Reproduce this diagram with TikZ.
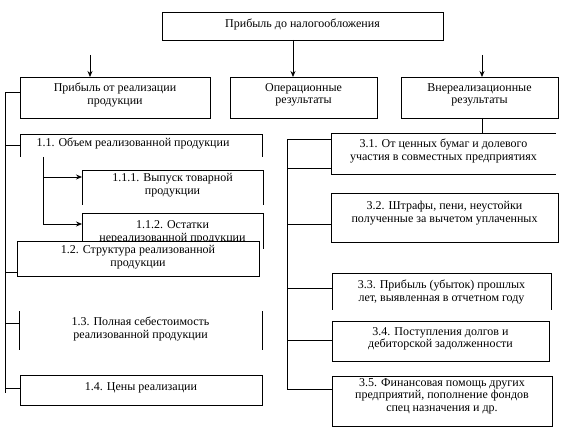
\documentclass[tikz,border=0pt]{standalone}
\usepackage{fontspec}
\setmainfont{Liberation Serif}
\usetikzlibrary{arrows.meta}
\begin{document}
\begin{tikzpicture}[x=1pt,y=-1pt,line width=0.8pt,
  boxnode/.style={inner sep=0pt,outer sep=0pt,fill=white},
  fullbox/.style={boxnode,draw},
  txt/.style={inner sep=0pt,align=center,font=\fontsize{12}{12.5}\selectfont},
  arr/.style={-{Stealth[length=6pt,width=5pt]}}]
\useasboundingbox (0,0) rectangle (565,430);
% top level
\node[fullbox,minimum width=281pt,minimum height=28pt] (top) at (302.5,26) {};
\node[txt] (top-t) at (302.5,24) {Прибыль до налогообложения};
\node[fullbox,minimum width=190pt,minimum height=41pt] (b1) at (115,97.5) {};
\node[txt] (b1-t) at (115,95) {Прибыль от реализации\\продукции};
\node[fullbox,minimum width=147pt,minimum height=41pt] (b2) at (303.5,97.5) {};
\node[txt] (b2-t) at (303.5,95) {Операционные\\результаты};
\node[fullbox,minimum width=157pt,minimum height=41pt] (b3) at (479.5,97.5) {};
\node[txt] (b3-t) at (479.5,95) {Внереализационные\\результаты};
% left column
\node[boxnode,fill=none,minimum width=242pt,minimum height=23pt] (b11) at (141,145.5) {};
\draw (b11.south west) -- (b11.north west) -- (b11.north east) -- (b11.south east);
\node[txt] (b11-t) at (133,144) {1.1. Объем реализованной продукции};
\node[boxnode,fill=none,minimum width=181pt,minimum height=35pt] (b111) at (172.5,187.5) {};
\draw (b111.south west) -- (b111.north west) -- (b111.north east) -- (b111.south east);
\node[txt] (b111-t) at (172.5,185) {1.1.1. Выпуск товарной\\продукции};
\node[boxnode,fill=none,minimum width=181pt,minimum height=36pt] (b112) at (172.5,231) {};
\draw (b112.south west) -- (b112.north west) -- (b112.north east) -- (b112.south east);
\node[txt] (b112-t) at (172.5,232.5) {1.1.2. Остатки\\нереализованной продукции};
\node[fullbox,minimum width=242pt,minimum height=35pt] (b12) at (138,258.5) {};
\node[txt] (b12-t) at (138,257) {1.2. Структура реализованной\\продукции};
\node[boxnode,fill=none,minimum width=243pt,minimum height=39pt] (b13) at (140.5,330.5) {};
\draw (b13.south west) -- (b13.north west);
\draw (b13.south east) -- (b13.north east);
\node[txt] (b13-t) at (140.5,329) {1.3. Полная себестоимость\\реализованной продукции};
\node[fullbox,minimum width=242pt,minimum height=30pt] (b14) at (141,390) {};
\node[txt] (b14-t) at (141,388) {1.4. Цены реализации};
% right column
\node[boxnode,fill=none,minimum width=225pt,minimum height=41pt] (b31) at (443.5,153.5) {};
\draw (b31.north east) -- (b31.north west) -- (b31.south west) -- (b31.south east);
\node[txt] (b31-t) at (443.5,151) {3.1. От ценных бумаг и долевого\\участия в совместных предприятиях};
\node[fullbox,minimum width=227pt,minimum height=49pt] (b32) at (444.5,217.5) {};
\node[txt] (b32-t) at (444.5,213) {3.2. Штрафы, пени, неустойки\\полученные за вычетом уплаченных};
\node[boxnode,fill=none,minimum width=219pt,minimum height=37pt] (b33) at (441.5,291.5) {};
\draw (b33.south west) -- (b33.north west) -- (b33.north east) -- (b33.south east);
\node[txt] (b33-t) at (441.5,292) {3.3. Прибыль (убыток) прошлых\\лет, выявленная в отчетном году};
\node[fullbox,minimum width=217pt,minimum height=40pt] (b34) at (440.5,341) {};
\node[txt] (b34-t) at (440.5,339) {3.4. Поступления долгов и\\дебиторской задолженности};
\node[fullbox,minimum width=220pt,minimum height=50pt] (b35) at (442,401) {};
\node[txt] (b35-t) at (442,396) {3.5. Финансовая помощь других\\предприятий, пополнение фондов\\спец назначения  и др.};
% coordinates
\coordinate (vm) at (293,0);
\coordinate (al) at (90,55);
\coordinate (ar) at (482,55);
\coordinate (LT) at (5,92);
\coordinate (LB) at (5,393);
\coordinate (ST) at (43,157);
\coordinate (SB) at (43,224);
\coordinate (RT) at (287,139);
\coordinate (RB) at (287,389);
% connectors top
\draw[arr] (top.south -| vm) -- (b2.north -| vm);
\draw[arr] (al) -- (al |- b1.north);
\draw[arr] (ar) -- (ar |- b3.north);
\draw (b3.south -| ar) -- (b31.north -| ar);
% left bus
\draw (b1.west |- LT) -- (LT) -- (LB);
\draw (LB |- b11.west) -- (b11.west);
\draw (LB |- 0,272) -- (b12.west |- 0,272);
\draw (LB |- 0,323) -- (b13.west |- 0,323);
\draw (LB |- 0,388) -- (b14.west |- 0,388);
% sub bus
\draw (ST) -- (SB);
\draw[arr] (ST |- 0,177) -- (b111.west |- 0,177);
\draw[arr] (SB) -- (b112.west |- SB);
% right bus
\draw (b31.west |- RT) -- (RT) -- (RB);
\draw (RT |- 0,168) -- (b31.west |- 0,168);
\draw (RT |- 0,224) -- (b32.west |- 0,224);
\draw (RT |- 0,288) -- (b33.west |- 0,288);
\draw (RT |- 0,340) -- (b34.west |- 0,340);
\draw (RB) -- (b35.west |- RB);
\end{tikzpicture}
\end{document}
